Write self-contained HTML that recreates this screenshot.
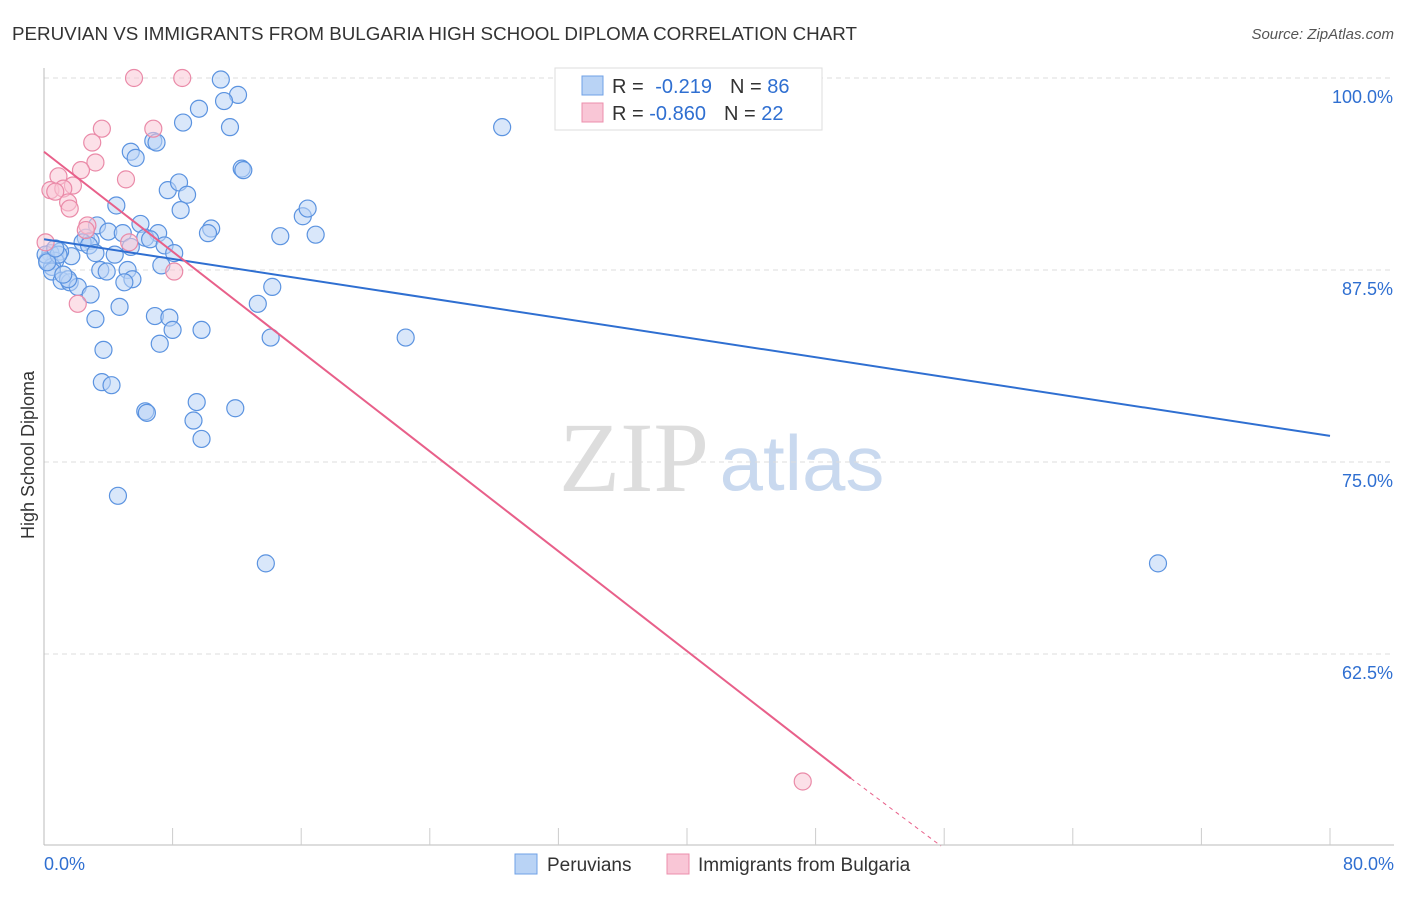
<!DOCTYPE html>
<html><head><meta charset="utf-8"><style>
body{margin:0;background:#fff;font-family:"Liberation Sans",sans-serif;}
</style></head><body>
<svg id="chart" width="1406" height="892" xmlns="http://www.w3.org/2000/svg" font-family="Liberation Sans, sans-serif">
<text x="12" y="40" font-size="18.8" fill="#333">PERUVIAN VS IMMIGRANTS FROM BULGARIA HIGH SCHOOL DIPLOMA CORRELATION CHART</text>
<text x="1394" y="39" font-size="15" fill="#555" text-anchor="end" font-style="italic">Source: ZipAtlas.com</text>
<text transform="translate(34,455) rotate(-90)" font-size="18" fill="#333" text-anchor="middle">High School Diploma</text>
<g>
<text x="634" y="491" font-size="100" fill="#ddd" text-anchor="middle" style="font-family:'Liberation Serif',serif">ZIP</text>
<text x="802" y="490" font-size="78" fill="#c9d9ef" text-anchor="middle">atlas</text>
</g>
<g id="grid"></g><g id="axes"></g><g id="points"></g><g id="lines"></g>
<g>
<rect x="555" y="68" width="267" height="62" fill="#fff" stroke="#ddd"/>
<rect x="582" y="76" width="21" height="19" fill="#b9d3f5" stroke="#6fa0e6"/>
<rect x="582" y="103" width="21" height="19" fill="#f9c6d6" stroke="#ec8fac"/>
<text x="612" y="93" font-size="20" fill="#333">R = <tspan fill="#2f6fd1" dx="6">-0.219</tspan><tspan fill="#333" dx="18">N = </tspan><tspan fill="#2f6fd1">86</tspan></text>
<text x="612" y="120" font-size="20" fill="#333">R = <tspan fill="#2f6fd1">-0.860</tspan><tspan fill="#333" dx="18">N = </tspan><tspan fill="#2f6fd1">22</tspan></text>
</g>
<g>
<rect x="515" y="854" width="22" height="20" fill="#b9d3f5" stroke="#6fa0e6"/>
<text x="547" y="871" font-size="19" fill="#333">Peruvians</text>
<rect x="667" y="854" width="22" height="20" fill="#f9c6d6" stroke="#ec8fac"/>
<text x="698" y="871" font-size="19" fill="#333">Immigrants from Bulgaria</text>
</g>
</svg>
<script>
const yTicks=[100,87.5,75,62.5];
const yTickLabels=["100.0%","87.5%","75.0%","62.5%"];
const xTickLabels=["0.0%","80.0%"];
const blueX=[11.0,12.07,11.2,9.64,8.65,11.57,28.5,6.8,7,5.4,5.7,12.3,12.4,7.7,8.4,8.9,8.5,4.5,16.1,16.4,6,3.3,10.4,10.2,14.7,16.9,4,4.9,7.1,6.3,6.6,2.6,2.9,2.4,7.5,8.1,5.4,2.8,3.2,4.4,1.7,1,0.4,0.7,0.2,0.5,0.5,1.1,1.6,2.1,1.5,3.5,3.9,5.2,5.5,5,7.3,14.2,13.3,4.7,2.9,3.2,6.9,7.8,8,9.8,14.1,22.5,7.2,3.7,3.6,4.2,6.3,6.4,9.5,9.3,11.9,9.8,4.6,13.8,69.3,0.1,0.9,1.2,0.2,0.7];
const blueY=[99.9,98.9,98.5,98,97.1,96.8,96.8,95.9,95.8,95.2,94.8,94.1,94,92.7,93.2,92.4,91.4,91.7,91,91.5,90.5,90.4,90.2,89.9,89.7,89.8,90,89.9,89.9,89.6,89.5,89.6,89.4,89.3,89.1,88.6,89,89.1,88.6,88.5,88.4,88.7,88.6,88.1,88.1,87.7,87.4,86.8,86.7,86.4,86.9,87.5,87.4,87.5,86.9,86.7,87.8,86.4,85.3,85.1,85.9,84.3,84.5,84.4,83.6,83.6,83.1,83.1,82.7,82.3,80.2,80,78.3,78.2,78.9,77.7,78.5,76.5,72.8,68.4,68.4,88.5,88.5,87.2,88,88.9];
const pinkX=[5.6,8.6,3.6,6.8,3,3.2,2.3,5.1,0.9,1.8,0.4,1.2,0.7,1.5,1.6,2.7,5.3,8.1,2.1,47.2,0.1,2.6];
const pinkY=[100,100,96.7,96.7,95.8,94.5,94,93.4,93.6,93,92.7,92.8,92.6,91.9,91.5,90.4,89.3,87.4,85.3,54.2,89.3,90.1];
const blueFit=[[0,89.5],[80,76.7]];
const pinkFit=[[0,95.2],[50.2,54.4],[55.8,50]];
const NS="http://www.w3.org/2000/svg";
const X0=44,X1=1330,YT=78,PX12=192;
const sx=v=>X0+(v/80)*(X1-X0);
const sy=v=>YT+(100-v)/12.5*PX12;
function mk(tag,attrs,parent){const e=document.createElementNS(NS,tag);for(const k in attrs)e.setAttribute(k,attrs[k]);document.getElementById(parent).appendChild(e);return e;}
yTicks.forEach((t,i)=>{
 const l=mk('line',{x1:X0,x2:1394,y1:sy(t),y2:sy(t),stroke:'#ddd','stroke-dasharray':'5,4'},'grid');
 
 
 const tx=mk('text',{x:1393,y:sy(t)+25,'font-size':18,fill:'#2f6fd1','text-anchor':'end'},'grid');
 tx.textContent=yTickLabels[i];
 
 
});
const ax=mk('line',{x1:X0,x2:X0,y1:68,y2:845,stroke:'#bbb'},'axes');


const bx=mk('line',{x1:X0,x2:1394,y1:845,y2:845,stroke:'#bbb'},'axes');


for(let i=1;i<=10;i++){const t=mk('line',{x1:sx(i*8),x2:sx(i*8),y1:828,y2:845,stroke:'#ccc'},'axes');
 
 }
[[0,'start',X0],[80,'end',1394]].forEach((a,i)=>{const t=mk('text',{x:a[2],y:870,'font-size':18,fill:'#2f6fd1','text-anchor':a[1]},'axes');t.textContent=xTickLabels[i];
 
 });
function pts(xs,ys,fill,stroke,name){xs.forEach((x,i)=>{const c=mk('circle',{cx:sx(x),cy:sy(ys[i]),r:8.5,fill:fill,'fill-opacity':0.55,stroke:stroke,'stroke-width':1.2},'points');
 
 });}
pts(blueX,blueY,'#b9d3f5','#5b93e0','peruvian-point');
pts(pinkX,pinkY,'#f9c6d6','#ea8aa8','bulgaria-point');
const bl=mk('line',{x1:sx(blueFit[0][0]),y1:sy(blueFit[0][1]),x2:sx(blueFit[1][0]),y2:sy(blueFit[1][1]),stroke:'#2f6fd1','stroke-width':2},'lines');


const pl=mk('line',{x1:sx(pinkFit[0][0]),y1:sy(pinkFit[0][1]),x2:sx(pinkFit[1][0]),y2:sy(pinkFit[1][1]),stroke:'#e8608a','stroke-width':2},'lines');


const pd=mk('line',{x1:sx(pinkFit[1][0]),y1:sy(pinkFit[1][1]),x2:sx(pinkFit[2][0]),y2:sy(pinkFit[2][1]),stroke:'#e8608a','stroke-width':1,'stroke-dasharray':'4,4'},'lines');


</script>
</body></html>
